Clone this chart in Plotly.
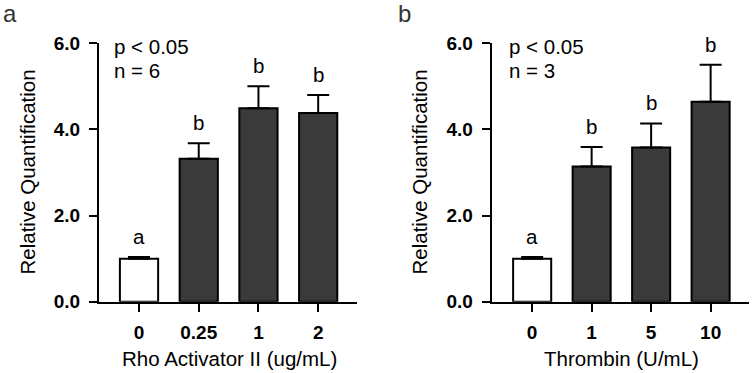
import plotly.graph_objects as go

# ---- data ----
cats_a = ["0", "0.25", "1", "2"]
mean_a = [1.00, 3.32, 4.49, 4.38]
err_a = [0.04, 0.36, 0.51, 0.42]
letters_a = ["a", "b", "b", "b"]

cats_b = ["0", "1", "5", "10"]
mean_b = [1.00, 3.14, 3.58, 4.64]
err_b = [0.04, 0.45, 0.56, 0.86]
letters_b = ["a", "b", "b", "b"]

yticks = [0, 2, 4, 6]
ytick_labels = ["0.0", "2.0", "4.0", "6.0"]

FONT = "Liberation Sans, Arial, Helvetica, sans-serif"
W, H = 752, 373

def px_x(p):
    return p / W

def px_y(p):
    return 1 - p / H

fig = go.Figure()

pos_a = list(range(len(cats_a)))
pos_b = list(range(len(cats_b)))

for pos, mean, err, xa, ya in [
    (pos_a, mean_a, err_a, "x", "y"),
    (pos_b, mean_b, err_b, "x2", "y2"),
]:
    colors = ["#ffffff"] + ["#3a3a3a"] * (len(pos) - 1)
    fig.add_trace(go.Bar(
        x=pos, y=mean, xaxis=xa, yaxis=ya,
        width=0.64,
        marker=dict(color=colors, line=dict(color="#000000", width=2)),
        error_y=dict(type="data", symmetric=False, array=err,
                     arrayminus=[0] * len(err), color="#000000",
                     thickness=2, width=11),
        showlegend=False, hoverinfo="skip",
    ))

xdom_a = [px_x(99), px_x(357)]
xdom_b = [px_x(491.7), px_x(748.7)]
ydom = [px_y(301.7), px_y(43.3)]

xcommon = dict(type="linear", showline=True, linecolor="#000000", linewidth=2,
               ticks="outside", ticklen=8, tickwidth=2, tickcolor="#000000",
               showgrid=False, zeroline=False, automargin=False,
               tickfont=dict(family=FONT, size=19, color="#000000", weight="bold"),
               ticklabelstandoff=4)
ycommon = dict(range=[0, 6], showline=True, linecolor="#000000", linewidth=2,
               ticks="outside", ticklen=8, tickwidth=2, tickcolor="#000000",
               tickvals=yticks, ticktext=ytick_labels, automargin=False,
               showgrid=False, zeroline=False,
               tickfont=dict(family=FONT, size=19, color="#000000", weight="bold"),
               ticklabelstandoff=5)

fig.update_layout(
    width=W, height=H,
    margin=dict(l=0, r=0, t=0, b=0, autoexpand=False),
    plot_bgcolor="#ffffff", paper_bgcolor="#ffffff",
    bargap=0,
    xaxis=dict(domain=xdom_a, range=[-0.67, 3.65], anchor="y",
               tickvals=pos_a, ticktext=cats_a, **xcommon),
    yaxis=dict(domain=ydom, anchor="x", **ycommon),
    xaxis2=dict(domain=xdom_b, range=[-0.68, 3.64], anchor="y2",
                tickvals=pos_b, ticktext=cats_b, **xcommon),
    yaxis2=dict(domain=ydom, anchor="x2", **ycommon),
)

ann = []
txtfont = dict(family=FONT, size=20.5, color="#000000")

# significance letters
for pos, mean, err, letters, xr, yr in [
    (pos_a, mean_a, err_a, letters_a, "x", "y"),
    (pos_b, mean_b, err_b, letters_b, "x2", "y2"),
]:
    for p, m, e, l in zip(pos, mean, err, letters):
        ann.append(dict(x=p, y=m + e, xref=xr, yref=yr, text=l, showarrow=False,
                        xanchor="center", yanchor="bottom", yshift=7, font=txtfont))

# stats text
for x0, ntext in [(112, "n = 6"), (507, "n = 3")]:
    ann.append(dict(x=px_x(x0), y=px_y(47), xref="paper", yref="paper",
                    text="p < 0.05", showarrow=False, xanchor="left",
                    yanchor="middle", font=txtfont))
    ann.append(dict(x=px_x(x0), y=px_y(70), xref="paper", yref="paper",
                    text=ntext, showarrow=False, xanchor="left",
                    yanchor="middle", font=txtfont))

# axis titles
for xc, ttl in [(229, "Rho Activator II (ug/mL)"), (621.5, "Thrombin (U/mL)")]:
    ann.append(dict(x=px_x(xc), y=px_y(358), xref="paper", yref="paper",
                    text=ttl, showarrow=False, xanchor="center",
                    yanchor="middle", font=txtfont))
for xc in [27, 419]:
    ann.append(dict(x=px_x(xc), y=px_y(172.5), xref="paper", yref="paper",
                    text="Relative Quantification", showarrow=False,
                    textangle=-90, xanchor="center", yanchor="middle",
                    font=txtfont))

# panel labels
for xc, lab in [(1, "a"), (396, "b")]:
    ann.append(dict(x=px_x(xc), y=px_y(13), xref="paper", yref="paper",
                    text=lab, showarrow=False, xanchor="left", yanchor="middle",
                    font=dict(family=FONT, size=24, color="#333333")))

fig.update_layout(annotations=ann)
fig.write_html("out.html",
               config={"displayModeBar": False, "staticPlot": True},
               post_script="document.body.style.margin='0';document.body.style.overflow='hidden';")
